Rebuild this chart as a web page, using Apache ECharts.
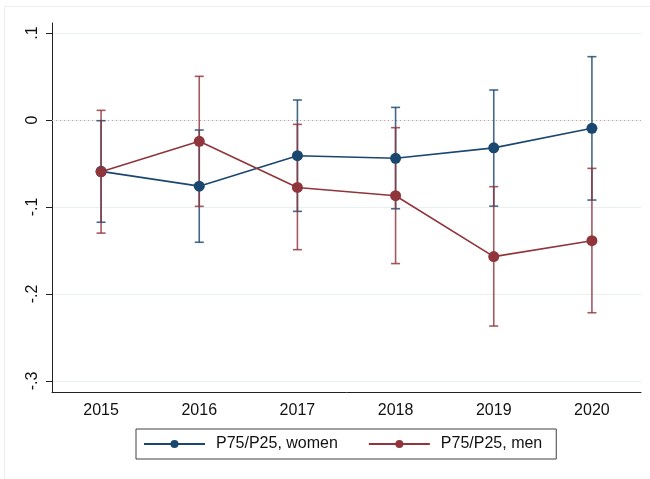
<!DOCTYPE html>
<html>
<head>
<meta charset="utf-8">
<script src="https://cdn.jsdelivr.net/npm/echarts@6/dist/echarts.min.js"></script>
<style>
  html, body { margin: 0; padding: 0; background: #fff; }
  #chart { width: 650px; height: 479px; }
</style>
</head>
<body>
<div id="chart"></div>
<script>
const years = ['2015', '2016', '2017', '2018', '2019', '2020']
const yTicks = [-0.3, -0.2, -0.1, 0, 0.1]

// P75/P25, women: point estimate and CI
const womenValue = [-0.059, -0.076, -0.041, -0.044, -0.032, -0.0095]
const womenLow = [-0.1175, -0.1405, -0.105, -0.102, -0.099, -0.092]
const womenHigh = [-0.0008, -0.0115, 0.023, 0.0145, 0.0345, 0.0728]

// P75/P25, men
const menValue = [-0.0595, -0.0245, -0.0775, -0.087, -0.157, -0.1387]
const menLow = [-0.130, -0.0992, -0.149, -0.165, -0.2368, -0.2215]
const menHigh = [0.0111, 0.0502, -0.005, -0.0088, -0.0766, -0.0556]

const blue = '#1a476f'
const red = '#90353b'
const refColor = '#e48f99'
const font = 'Liberation Sans, Arial, sans-serif'

function ciData (low, high) {
  return years.map((y, i) => [i, low[i], high[i]])
}

function capRender (color) {
  return function (params, api) {
    const lo = api.coord([api.value(0), api.value(1)])
    const hi = api.coord([api.value(0), api.value(2)])
    const w = 4.5
    const style = { stroke: color, lineWidth: 1.6, opacity: 0.82 }
    return {
      type: 'group',
      children: [
        { type: 'line', shape: { x1: lo[0], y1: lo[1], x2: hi[0], y2: hi[1] }, style: style },
        { type: 'line', shape: { x1: lo[0] - w, y1: lo[1], x2: lo[0] + w, y2: lo[1] }, style: style },
        { type: 'line', shape: { x1: hi[0] - w, y1: hi[1], x2: hi[0] + w, y2: hi[1] }, style: style }
      ]
    }
  }
}

const chart = echarts.init(document.getElementById('chart'))
const option = {
  animation: false,
  backgroundColor: '#fff',
  graphic: [{
    type: 'rect',
    shape: { x: 4.5, y: 6.5, width: 700, height: 600 },
    style: { fill: 'none', stroke: '#eeeeee', lineWidth: 1 },
    silent: true,
    z: -10
  }],
  grid: { left: 52, right: 9, top: 23, bottom: 87 },
  legend: {
    left: 136,
    top: 429,
    orient: 'horizontal',
    data: ['P75/P25, women', 'P75/P25, men'],
    itemWidth: 61,
    itemHeight: 10,
    itemGap: 30,
    padding: [7, 14, 7, 7],
    borderColor: '#404040',
    borderWidth: 1,
    borderRadius: 0,
    textStyle: {
      fontFamily: font,
      fontSize: 16,
      color: '#111',
      padding: [0, 0, 0, 6]
    }
  },
  xAxis: {
    type: 'category',
    data: years,
    boundaryGap: true,
    axisLine: { onZero: false, lineStyle: { color: '#222', width: 1 } },
    axisTick: { alignWithLabel: true, length: 6, lineStyle: { color: '#222' } },
    axisLabel: { fontFamily: font, fontSize: 16, color: '#111', margin: 11 },
    splitLine: { show: false }
  },
  yAxis: {
    type: 'value',
    min: -0.3126,
    max: 0.1115,
    axisLine: { show: true, onZero: false, lineStyle: { color: '#222', width: 1 } },
    axisTick: { show: true, length: 6, customValues: yTicks, lineStyle: { color: '#222' } },
    axisLabel: {
      customValues: yTicks,
      rotate: 90,
      margin: 11,
      fontFamily: font,
      fontSize: 16,
      color: '#111',
      formatter: function (v) {
        if (Math.abs(v) < 1e-9) return '0'
        return (v < 0 ? '-' : '') + String(Math.abs(v).toFixed(1)).replace(/^0/, '')
      }
    },
    splitLine: { show: true, lineStyle: { color: '#e8f0f2', width: 1 } }
  },
  series: [
    {
      name: 'women CI',
      type: 'custom',
      renderItem: capRender(blue),
      data: ciData(womenLow, womenHigh),
      z: 3
    },
    {
      name: 'men CI',
      type: 'custom',
      renderItem: capRender(red),
      data: ciData(menLow, menHigh),
      z: 3
    },
    {
      name: 'P75/P25, women',
      type: 'line',
      data: womenValue,
      symbol: 'circle',
      symbolSize: 11,
      color: blue,
      lineStyle: { color: blue, width: 1.6 },
      itemStyle: { color: blue },
      z: 4,
      markLine: {
        silent: true,
        symbol: 'none',
        z: 1,
        label: { show: false },
        emphasis: { disabled: true },
        lineStyle: { color: refColor, type: [1, 3], width: 1, opacity: 1 },
        data: [{ yAxis: 0 }]
      }
    },
    {
      name: 'P75/P25, men',
      type: 'line',
      data: menValue,
      symbol: 'circle',
      symbolSize: 11,
      color: red,
      lineStyle: { color: red, width: 1.6 },
      itemStyle: { color: red },
      z: 5
    }
  ]
}
chart.setOption(option)
window.addEventListener('resize', function () {
  chart.resize()
})
</script>
</body>
</html>
